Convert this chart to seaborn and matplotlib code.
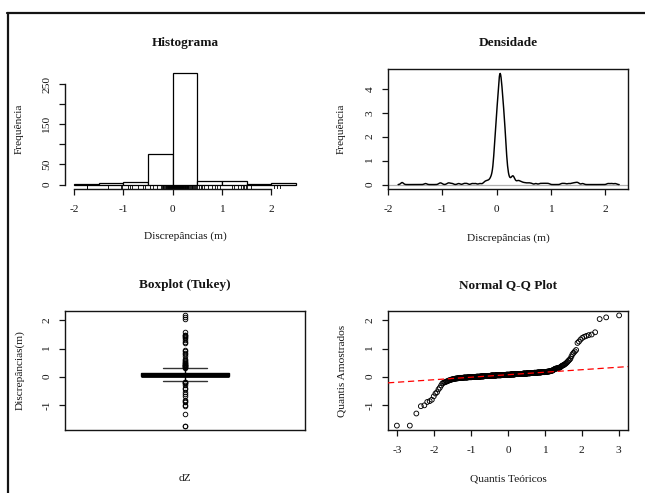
import numpy as np
import matplotlib
matplotlib.use("Agg")
import matplotlib.pyplot as plt
import seaborn as sns
from statistics import NormalDist
from matplotlib.lines import Line2D

# ---------------- data (dZ discrepancies, metres) ----------------
dz_low_tail = [-1.74, -1.74, -1.31, -1.05, -1.02, -0.90, -0.87, -0.82, -0.70,
               -0.60, -0.55, -0.45, -0.39, -0.31]
dz_core_values = [-0.24, -0.22, -0.20, -0.19, -0.17, -0.16,
                  -0.14, -0.13, -0.12, -0.11, -0.10,
                  -0.09, -0.08, -0.07, -0.06, -0.05,
                  -0.04, -0.03, -0.02, -0.01, 0.00,
                  0.01, 0.02, 0.03,
                  0.04, 0.05, 0.06, 0.07,
                  0.08, 0.09, 0.10, 0.11,
                  0.12, 0.13, 0.14, 0.15, 0.16,
                  0.17, 0.18, 0.19, 0.20, 0.21, 0.22]
dz_core_counts = [1, 1, 1, 1, 1, 1,
                  1, 1, 1, 1, 1,
                  2, 2, 2, 3, 2,
                  8, 9, 10, 12, 13,
                  11, 12, 13,
                  20, 21, 20, 19,
                  17, 17, 16, 15,
                  12, 12, 11, 11, 10,
                  5, 4, 3, 2, 2, 2]
dz_upper_scatter = [0.24, 0.25, 0.26, 0.27, 0.28, 0.29, 0.29, 0.30, 0.30, 0.31, 0.31,
                    0.32, 0.33, 0.35, 0.37, 0.39, 0.40, 0.41, 0.43, 0.45, 0.47, 0.50,
                    0.53, 0.57, 0.60, 0.64, 0.72, 0.80, 0.85, 0.90, 0.95]
dz_high_tail = [1.20, 1.25, 1.32, 1.38, 1.42, 1.45, 1.48, 1.50, 1.58, 2.05, 2.11, 2.18]

hist_breaks = [-2.0, -1.5, -1.0, -0.5, 0.0, 0.5, 1.0, 1.5, 2.0, 2.5]
hist_xticks = [-2, -1, 0, 1, 2]
hist_yticks = [0, 50, 100, 150, 200, 250]
hist_yticklabels = ["0", "50", "", "150", "", "250"]
dens_xticks = [-2, -1, 0, 1, 2]
dens_yticks = [0, 1, 2, 3, 4]
box_yticks = [-1, 0, 1, 2]
qq_xticks = [-3, -2, -1, 0, 1, 2, 3]
qq_yticks = [-1, 0, 1, 2]

dz = np.concatenate([dz_low_tail,
                     np.repeat(dz_core_values, dz_core_counts),
                     dz_upper_scatter, dz_high_tail])
n = len(dz)

# ---------------- style ----------------
sns.set_style("ticks")
plt.rcParams["font.family"] = ["Liberation Serif", "DejaVu Serif"]
plt.rcParams["axes.unicode_minus"] = False
INK = "#141414"

W, H = 645, 493
fig = plt.figure(figsize=(W / 100, H / 100), dpi=100)
fig.patch.set_facecolor("white")


def add_ax(l, t, r, b):
    return fig.add_axes([l / W, 1 - b / H, (r - l) / W, (b - t) / H])


ax1 = add_ax(65, 69, 305, 189)
ax2 = add_ax(388, 69, 628, 189)
ax3 = add_ax(65, 311, 305, 430)
ax4 = add_ax(388, 311, 628, 430)


def style(ax, box=True):
    for s in ax.spines.values():
        s.set_visible(box)
        s.set_linewidth(1.0)
        s.set_color(INK)
    ax.tick_params(direction="out", length=4.2, width=0.9, colors=INK,
                   labelsize=8.2, labelcolor=INK)
    ax.tick_params(axis="x", pad=7.5)
    ax.tick_params(axis="y", pad=5.5, labelrotation=90)
    ax.grid(False)
    ax.set_facecolor("white")


def fix_ylabels(ax):
    for lab in ax.get_yticklabels():
        lab.set_va("center")
        lab.set_rotation(90)


def labels(ax, title, xl, yl, ty, xly, ylx):
    ax.set_title(title, fontsize=9.5, fontweight="bold", y=ty, va="center",
                 pad=0, color=INK)
    ax.set_xlabel(xl, fontsize=8.2, color=INK)
    ax.xaxis.set_label_coords(0.5, xly)
    ax.xaxis.label.set_va("center")
    ax.set_ylabel(yl, fontsize=8.2, color=INK)
    ax.yaxis.set_label_coords(ylx, 0.5)
    ax.yaxis.label.set_va("center")


# ---------------- 1. Histogram ----------------
bins_rc = [b + 1e-9 for b in hist_breaks]  # right-closed intervals as in R
sns.histplot(x=dz, bins=bins_rc, ax=ax1, stat="count", color="white",
             edgecolor="black", linewidth=0.9, alpha=1)
sns.rugplot(x=dz, ax=ax1, height=0.03, color="black", linewidth=0.6,
            expand_margins=False)
counts, _ = np.histogram(dz, bins=bins_rc)
ymax = counts.max()
ax1.set_xlim(hist_breaks[0] - 0.04 * (hist_breaks[-1] - hist_breaks[0]),
             hist_breaks[-1] + 0.04 * (hist_breaks[-1] - hist_breaks[0]))
ax1.set_ylim(-0.04 * ymax, 1.04 * ymax)
style(ax1, box=False)
ax1.spines["left"].set_visible(True)
ax1.spines["bottom"].set_visible(True)
ax1.spines["left"].set_bounds(hist_yticks[0], hist_yticks[-1])
ax1.spines["bottom"].set_bounds(hist_xticks[0], hist_xticks[-1])
ax1.set_xticks(hist_xticks)
ax1.set_xticklabels([str(t) for t in hist_xticks])
ax1.set_yticks(hist_yticks)
ax1.set_yticklabels(hist_yticklabels)
fix_ylabels(ax1)
labels(ax1, "Histograma", "Discrepâncias (m)", "Frequência", 1.214, -0.39, -0.19)

# ---------------- 2. Density ----------------
q1, q3 = np.quantile(dz, [0.25, 0.75])
bw = 0.9 * min(np.std(dz, ddof=1), (q3 - q1) / 1.34) * n ** (-0.2)
factor = bw / np.std(dz, ddof=1)
ax2.axhline(0, color="#b0b0b0", linewidth=0.9, zorder=1)
sns.kdeplot(x=dz, ax=ax2, bw_method=factor, cut=3, gridsize=512,
            color="black", linewidth=1.05, zorder=2)
kx = ax2.lines[-1].get_xdata()
ky = ax2.lines[-1].get_ydata()
xr = kx.max() - kx.min()
ax2.set_xlim(kx.min() - 0.04 * xr, kx.max() + 0.04 * xr)
ax2.set_ylim(-0.04 * ky.max(), 1.04 * ky.max())
style(ax2)
ax2.set_xticks(dens_xticks)
ax2.set_xticklabels([str(t) for t in dens_xticks])
ax2.set_yticks(dens_yticks)
ax2.set_yticklabels([str(t) for t in dens_yticks])
fix_ylabels(ax2)
labels(ax2, "Densidade", "Discrepâncias (m)", "Frequência", 1.214, -0.41, -0.193)

# ---------------- 3. Boxplot ----------------
sns.boxplot(y=dz, ax=ax3, width=0.367, color="white", linecolor="black",
            linewidth=1.0, whis=1.5, fliersize=3.3,
            medianprops=dict(linewidth=3.4, color="black"),
            whiskerprops=dict(linestyle=(0, (4, 3)), color="black"),
            capprops=dict(color="#333333"),
            flierprops=dict(marker="o", markerfacecolor="none",
                            markeredgecolor="black", markeredgewidth=0.65))
dr = dz.max() - dz.min()
ax3.set_xlim(-0.5, 0.5)
ax3.set_ylim(dz.min() - 0.04 * dr, dz.max() + 0.04 * dr)
style(ax3)
ax3.set_xticks([])
ax3.set_yticks(box_yticks)
ax3.set_yticklabels([str(t) for t in box_yticks])
fix_ylabels(ax3)
labels(ax3, "Boxplot (Tukey)", "dZ", "Discrepâncias(m)", 1.218, -0.41, -0.1875)

# ---------------- 4. Normal Q-Q ----------------
nd = NormalDist()
theo = np.array([nd.inv_cdf((i + 0.5) / n) for i in range(n)])
samp = np.sort(dz)
sns.scatterplot(x=theo, y=samp, ax=ax4, marker="o", s=12,
                facecolor="none", edgecolor="black", linewidth=0.65, zorder=3)
slope = (q3 - q1) / (nd.inv_cdf(0.75) - nd.inv_cdf(0.25))
intercept = q1 - slope * nd.inv_cdf(0.25)
ax4.axline((0, intercept), slope=slope, color="red", linewidth=0.9,
           linestyle=(0, (5, 3)), zorder=4)
tr = theo.max() - theo.min()
ax4.set_xlim(theo.min() - 0.04 * tr, theo.max() + 0.04 * tr)
ax4.set_ylim(samp.min() - 0.04 * dr, samp.max() + 0.04 * dr)
style(ax4)
ax4.set_xticks(qq_xticks)
ax4.set_xticklabels([str(t) for t in qq_xticks])
ax4.set_yticks(qq_yticks)
ax4.set_yticklabels([str(t) for t in qq_yticks])
fix_ylabels(ax4)
labels(ax4, "Normal Q-Q Plot", "Quantis Teóricos", "Quantis Amostrados",
       1.218, -0.41, -0.193)

# ---------------- outer frame (top and left edges of a surrounding box) ----------------
fig.add_artist(Line2D([7 / W, 1], [1 - 13 / H, 1 - 13 / H], color=INK, linewidth=1.6))
fig.add_artist(Line2D([8 / W, 8 / W], [0, 1 - 13 / H], color=INK, linewidth=1.6))

fig.savefig("out.png", dpi=100, facecolor="white")
